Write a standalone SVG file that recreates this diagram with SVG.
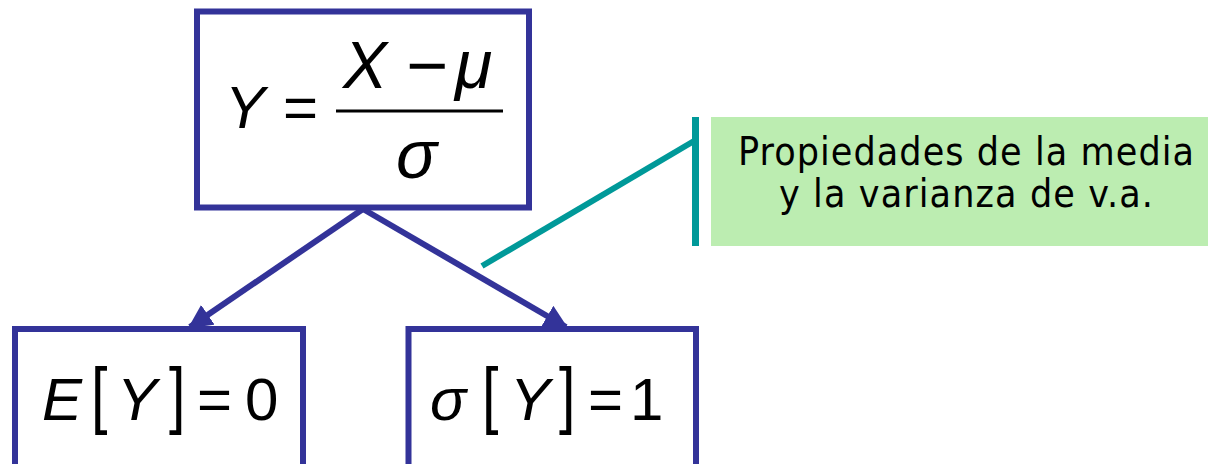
<svg xmlns="http://www.w3.org/2000/svg" width="1208" height="464" viewBox="0 0 1208 464">
<defs>
<style>
.box{fill:#ffffff;stroke:#333399;stroke-width:6}
.conn{stroke:#333399;stroke-width:6;fill:none}
.m{font-family:"Liberation Sans",Arial,sans-serif;font-size:60px;fill:#000}
.i{font-style:italic}
.br{font-family:"Liberation Sans",Arial,sans-serif;font-size:74px;fill:#000}
.note{font-family:"DejaVu Sans Condensed","DejaVu Sans",Verdana,sans-serif;font-stretch:condensed;font-size:39px;fill:#000;text-anchor:middle}
</style>
<marker id="arr" viewBox="0 0 10 10" refX="9" refY="5" markerWidth="4" markerHeight="4" orient="auto" markerUnits="strokeWidth">
<path d="M0,0 L10,5 L0,10 z" fill="#333399"/>
</marker>
</defs>
<rect width="1208" height="464" fill="#ffffff"/>
<g id="connectors">
<line class="conn" x1="363" y1="209" x2="190" y2="327" marker-end="url(#arr)"/>
<line class="conn" x1="363" y1="209" x2="566" y2="327" marker-end="url(#arr)"/>
<line x1="482" y1="266" x2="694" y2="141" stroke="#009999" stroke-width="6"/>
</g>
<g id="node-top">
<rect class="box" x="197" y="11.5" width="332" height="196"/>
<text class="m i" x="225" y="128">Y</text>
<text class="m" x="283" y="128">=</text>
<text class="m i" x="343" y="88" style="font-size:66px">X</text>
<text class="m" x="406" y="90" style="font-size:72px">−</text>
<text class="m i" x="455" y="88" style="font-size:68px">μ</text>
<line x1="336" y1="111" x2="503" y2="111" stroke="#000" stroke-width="3"/>
<text class="m i" x="396" y="178" style="font-size:68px">σ</text>
</g>
<g id="node-mean">
<rect class="box" x="15" y="329" width="288" height="150"/>
<text class="m i" x="42" y="420">E</text>
<text class="br" transform="translate(91 420) scale(0.8 1)">[</text>
<text class="m i" x="117" y="420">Y</text>
<text class="br" transform="translate(169 420) scale(0.8 1)">]</text>
<text class="m" x="197" y="420">=</text>
<text class="m" x="245" y="420">0</text>
</g>
<g id="node-sd">
<rect class="box" x="408.5" y="329" width="287.5" height="150"/>
<text class="m i" x="430" y="420">σ</text>
<text class="br" transform="translate(482 420) scale(0.8 1)">[</text>
<text class="m i" x="510" y="420">Y</text>
<text class="br" transform="translate(559 420) scale(0.8 1)">]</text>
<text class="m" x="588" y="420">=</text>
<text class="m" x="630" y="420">1</text>
</g>
<g id="note">
<rect x="692" y="117" width="7" height="129" fill="#009999"/>
<rect x="711" y="117" width="497" height="129" fill="#bcedb1"/>
<text class="note" x="966" y="165" textLength="456" lengthAdjust="spacing">Propiedades de la media</text>
<text class="note" x="966" y="207" textLength="374" lengthAdjust="spacing">y la varianza de v.a.</text>
</g>
</svg>
